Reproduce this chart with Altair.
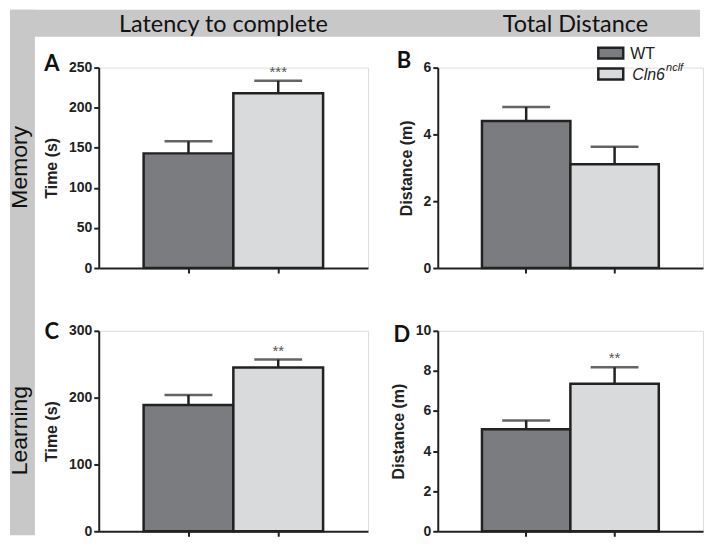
import altair as alt
import pandas as pd

# ---- data ----
groups = ["WT", "Cln6nclf"]
memory_latency = [143, 218]
memory_latency_sem = [15, 15.5]
memory_distance = [4.40, 3.11]
memory_distance_sem = [0.42, 0.52]
learning_latency = [189, 245]
learning_latency_sem = [15, 12]
learning_distance = [5.09, 7.36]
learning_distance_sem = [0.44, 0.82]
stars_memory_latency = ["", "***"]
stars_memory_distance = ["", ""]
stars_learning_latency = ["", "**"]
stars_learning_distance = ["", "**"]
col_titles = ["Latency to complete", "Total Distance"]
row_titles = ["Memory", "Learning"]
panel_letters = ["A", "B", "C", "D"]
y_titles = ["Time (s)", "Distance (m)"]
ticks_memory_latency = [0, 50, 100, 150, 200, 250]
ticks_memory_distance = [0, 2, 4, 6]
ticks_learning_latency = [0, 100, 200, 300]
ticks_learning_distance = [0, 2, 4, 6, 8, 10]

INK = "#222222"
DARK = "#7b7c7f"
LIGHT = "#d9dadc"
BAND = "#c8c8c8"
SANS = "Liberation Sans"
HEAD = "Lato"

PH = 201
ONE = pd.DataFrame({"a": [0]})


def label(text, x, y, **kw):
    return alt.Chart(pd.DataFrame({"t": [text]})).mark_text(**kw).encode(
        text="t:N", x=alt.value(x), y=alt.value(y))


def panel(means, sems, stars, letter, ytitle, ymax, yticks, letter_xy, width, extra_before=(), extra_after=()):
    df = pd.DataFrame({
        "group": groups,
        "mean": means,
        "hi": [m + s for m, s in zip(means, sems)],
        "stars": stars,
    })
    base = alt.Chart(df)
    xenc = alt.X(
        "group:N", sort=groups,
        scale=alt.Scale(paddingInner=0, paddingOuter=0.5),
        axis=alt.Axis(title=None, labels=False, ticks=True, tickSize=5, tickWidth=2,
                      tickColor=INK, domainColor=INK, domainWidth=2),
    )
    yscale = alt.Scale(domain=[0, ymax], nice=False, zero=True)
    yaxis = alt.Axis(
        title=ytitle, values=yticks, grid=False, tickSize=5, tickWidth=2, tickColor=INK,
        domainColor=INK, domainWidth=2, labelFont=SANS, labelFontSize=14,
        labelFontWeight="bold", labelColor=INK, labelPadding=2,
        titleFont=SANS, titleFontSize=16, titleFontWeight="bold", titleColor=INK,
        titlePadding=9,
    )
    bars = base.mark_bar(stroke=INK, strokeWidth=2.5, strokeJoin="miter").encode(
        x=xenc,
        y=alt.Y("mean:Q", scale=yscale, axis=yaxis),
        color=alt.Color("group:N", scale=alt.Scale(domain=groups, range=[DARK, LIGHT]), legend=None),
    )
    rules = base.mark_rule(color=INK, strokeWidth=2.5).encode(
        x=xenc, y=alt.Y("mean:Q", scale=yscale, axis=yaxis), y2="hi:Q"
    )
    caps = base.mark_tick(color=INK, thickness=2.5, size=48).encode(
        x=xenc, y=alt.Y("hi:Q", scale=yscale, axis=yaxis)
    )
    star_text = base.mark_text(dy=-9, fontSize=15, font=SANS, color="#555555",
                               baseline="middle").encode(
        x=xenc, y=alt.Y("hi:Q", scale=yscale, axis=yaxis), text="stars:N"
    )
    letter_text = label(letter, letter_xy[0], letter_xy[1], font=HEAD, fontSize=22,
                        fontWeight="bold", color="#111111", align="center", baseline="middle")
    layers = list(extra_before) + [bars, rules, caps, star_text, letter_text] + list(extra_after)
    return alt.layer(*layers).properties(width=width, height=PH)


# grey header and side bands, positioned relative to panel A's plot area
bands = [
    alt.Chart(ONE).mark_rect(fill=BAND, stroke=None).encode(
        x=alt.value(-89), x2=alt.value(603), y=alt.value(-58), y2=alt.value(-31)),
    alt.Chart(ONE).mark_rect(fill=BAND, stroke=None).encode(
        x=alt.value(-89), x2=alt.value(-64), y=alt.value(-58), y2=alt.value(469)),
    label(col_titles[0], 125, -36, font=HEAD, fontSize=23.5, color="#111111",
          align="center", baseline="alphabetic"),
    label(col_titles[1], 478, -36, font=HEAD, fontSize=23.5, color="#111111",
          align="center", baseline="alphabetic"),
    label(row_titles[0], -79, 100, font=SANS, fontSize=23, color="#111111", angle=270,
          align="center", baseline="middle"),
    label(row_titles[1], -79, 364, font=SANS, fontSize=23, color="#111111", angle=270,
          align="center", baseline="middle"),
]

legend = [
    alt.Chart(ONE).mark_rect(fill=DARK, stroke=INK, strokeWidth=2.5).encode(
        x=alt.value(161), x2=alt.value(186), y=alt.value(-20), y2=alt.value(-9)),
    alt.Chart(ONE).mark_rect(fill=LIGHT, stroke=INK, strokeWidth=2.5).encode(
        x=alt.value(161), x2=alt.value(186), y=alt.value(1), y2=alt.value(12)),
    label("WT", 193, -14, font=SANS, fontSize=16, color=INK, align="left", baseline="middle"),
    label("Cln6", 195, 7, font=SANS, fontSize=16, fontStyle="italic", color=INK,
          align="left", baseline="middle"),
    label("nclf", 229, 0, font=SANS, fontSize=11, fontStyle="italic", color=INK,
          align="left", baseline="middle"),
]

pA = panel(memory_latency, memory_latency_sem, stars_memory_latency, panel_letters[0],
           y_titles[0], 250, ticks_memory_latency, (-47, -4), 270, extra_before=bands)
pB = panel(memory_distance, memory_distance_sem, stars_memory_distance, panel_letters[1],
           y_titles[1], 6, ticks_memory_distance, (-34, -7), 266, extra_after=legend)
pC = panel(learning_latency, learning_latency_sem, stars_learning_latency, panel_letters[2],
           y_titles[0], 300, ticks_learning_latency, (-47, 1), 270)
pD = panel(learning_distance, learning_distance_sem, stars_learning_distance, panel_letters[3],
           y_titles[1], 10, ticks_learning_distance, (-36, 4), 266)

chart = alt.concat(
    pA, pB, pC, pD, columns=2,
    spacing=alt.RowColnumber(row=63, column=70), bounds="flush",
).properties(padding=0).configure_view(stroke=None).configure(background="white")

chart.save("out.html", embed_options={"renderer": "svg", "actions": False})
